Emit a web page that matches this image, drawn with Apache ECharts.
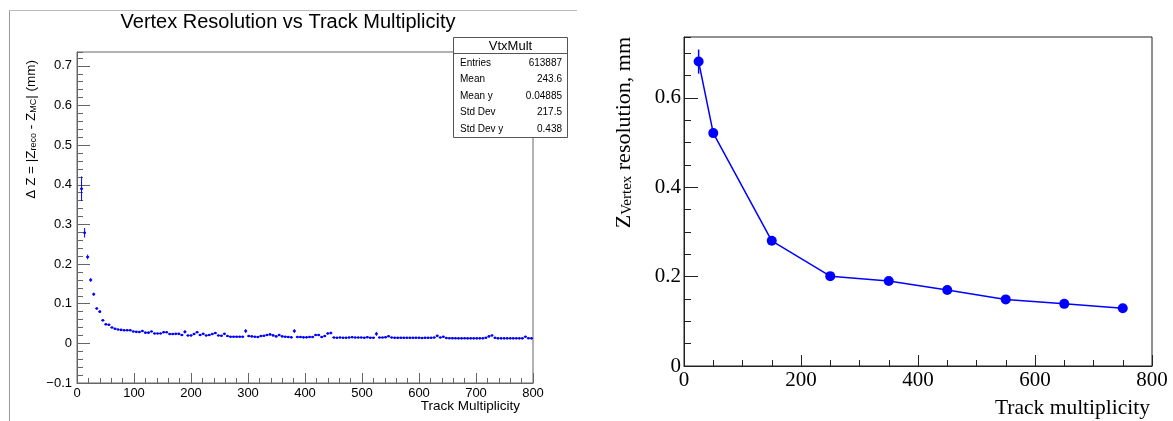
<!DOCTYPE html>
<html><head><meta charset="utf-8">
<script src="https://cdn.jsdelivr.net/npm/echarts@6/dist/echarts.min.js"></script>
<style>html,body{margin:0;padding:0;background:#fff}#c{width:1173px;height:421px}</style>
</head><body><div id="c"></div>
<script>
// ---------- data ----------
const leftTitle = 'Vertex Resolution vs Track Multiplicity';
const leftXName = 'Track Multiplicity';
const rightXName = 'Track multiplicity';
const nBins = 150;            // profile bins over 0..800
const xLo = 0, xHi = 800;
// profile mean per bin (bin 1 is empty)
const leftY = [
  null, 0.390, 0.279, 0.218, 0.160, 0.124, 0.088, 0.080, 0.058, 0.048,
  0.047, 0.040, 0.037, 0.035, 0.034, 0.033, 0.033, 0.033, 0.030, 0.029,
  0.0285, 0.031, 0.027, 0.027, 0.030, 0.025, 0.025, 0.025, 0.028, 0.028,
  0.0235, 0.0235, 0.024, 0.024, 0.021, 0.029, 0.020, 0.020, 0.0235, 0.028,
  0.021, 0.024, 0.020, 0.021, 0.0235, 0.026, 0.020, 0.0192, 0.024, 0.0184,
  0.0168, 0.0168, 0.0168, 0.0168, 0.0168, 0.031, 0.0184, 0.0176, 0.0168, 0.016,
  0.0184, 0.0192, 0.021, 0.0226, 0.0201, 0.0176, 0.021, 0.0176, 0.0168, 0.016,
  0.0151, 0.031, 0.016, 0.016, 0.0151, 0.0151, 0.016, 0.016, 0.021, 0.021,
  0.016, 0.0184, 0.025, 0.026, 0.0147, 0.0143, 0.0147, 0.0143, 0.0143, 0.0147,
  0.0155, 0.0147, 0.0147, 0.0147, 0.0143, 0.0155, 0.0143, 0.0143, 0.024, 0.0147,
  0.0147, 0.0155, 0.018, 0.0147, 0.014, 0.014, 0.014, 0.014, 0.014, 0.014,
  0.014, 0.014, 0.014, 0.0135, 0.014, 0.014, 0.014, 0.0147, 0.019, 0.0147,
  0.0168, 0.0135, 0.013, 0.013, 0.013, 0.0126, 0.0126, 0.013, 0.0126, 0.0126,
  0.0126, 0.0126, 0.0126, 0.0126, 0.014, 0.0175, 0.020, 0.014, 0.0126, 0.0126,
  0.0126, 0.0126, 0.0126, 0.0126, 0.0126, 0.0126, 0.0126, 0.0168, 0.013, 0.0126
];
const leftErr = [
  0, 0.031, 0.012, 0.006, 0.005, 0.004, 0.003, 0.003, 0.002, 0.002,
  0.002, 0.0015, 0.0015, 0.0015, 0.0015, 0.0015, 0.0015, 0.0015, 0.0015, 0.0015,
  0.0015, 0.0015, 0.0015, 0.0015, 0.0015, 0.0015, 0.0015, 0.0015, 0.0015, 0.0015,
  0.0015, 0.0015, 0.0015, 0.0015, 0.0015, 0.004, 0.0015, 0.0015, 0.0015, 0.002,
  0.0015, 0.0015, 0.0015, 0.0015, 0.0015, 0.002, 0.0015, 0.0015, 0.002, 0.0015,
  0.0015, 0.0015, 0.0015, 0.0015, 0.0015, 0.005, 0.0015, 0.0015, 0.0015, 0.0015,
  0.0015, 0.0015, 0.0015, 0.002, 0.0015, 0.0015, 0.002, 0.0015, 0.0015, 0.0015,
  0.0015, 0.005, 0.0015, 0.0015, 0.0015, 0.0015, 0.0015, 0.0015, 0.002, 0.002,
  0.0015, 0.0015, 0.003, 0.003, 0.0015, 0.0015, 0.0015, 0.0015, 0.0015, 0.0015,
  0.0015, 0.0015, 0.0015, 0.0015, 0.0015, 0.0015, 0.0015, 0.0015, 0.005, 0.0015,
  0.0015, 0.0015, 0.002, 0.0015, 0.0015, 0.0015, 0.0015, 0.0015, 0.0015, 0.0015,
  0.0015, 0.0015, 0.0015, 0.0015, 0.0015, 0.0015, 0.0015, 0.0015, 0.002, 0.0015,
  0.002, 0.0015, 0.0015, 0.0015, 0.0015, 0.0015, 0.0015, 0.0015, 0.0015, 0.0015,
  0.0015, 0.0015, 0.0015, 0.0015, 0.0015, 0.002, 0.002, 0.0015, 0.0015, 0.0015,
  0.0015, 0.0015, 0.0015, 0.0015, 0.0015, 0.0015, 0.0015, 0.002, 0.0015, 0.0015
];
const rightX = [25, 50, 150, 250, 350, 450, 550, 650, 750];
const rightY = [0.681, 0.521, 0.280, 0.201, 0.190, 0.170, 0.149, 0.139, 0.129];
const rightErr = [0.027, 0.008, 0.006, 0.005, 0.005, 0.005, 0.005, 0.005, 0.005];
const statsTitle = 'VtxMult';
const statsLabels = ['Entries', 'Mean', 'Mean y', 'Std Dev', 'Std Dev y'];
const statsValues = ['613887', '243.6', '0.04885', '217.5', '0.438'];

// ---------- chart ----------
const binW = (xHi - xLo) / nBins;
const leftData = [];
leftY.forEach((v, i) => { if (v != null) leftData.push([xLo + (i + 0.5) * binW, v, leftErr[i]]); });
const rightData = rightX.map((x, i) => [x, rightY[i], rightErr[i]]);

const SANS = 'Liberation Sans, Arial, Helvetica, sans-serif';
const SERIF = 'Liberation Serif, Times New Roman, serif';
const BLUE = '#0000ff';
const fmt1 = v => (Math.abs(v) < 1e-9 ? '0' : v.toFixed(1).replace('-', '\u2212'));

const chart = echarts.init(document.getElementById('c'), null, {renderer: 'canvas'});

const statsGraphics = [
  {type: 'rect', z: 100, shape: {x: 453.5, y: 37.5, width: 114, height: 100},
   style: {fill: '#fff', stroke: '#555', lineWidth: 1}},
  {type: 'line', z: 101, shape: {x1: 453.5, y1: 53.5, x2: 567.5, y2: 53.5}, style: {stroke: '#555', lineWidth: 1}},
  {type: 'text', z: 101, x: 510.5, y: 46, style: {text: statsTitle, font: '13px ' + SANS, fill: '#000', align: 'center', verticalAlign: 'middle'}}
];
statsLabels.forEach((l, i) => {
  statsGraphics.push({type: 'text', z: 101, x: 460, y: 63 + i * 16.5,
    style: {text: l, font: '10px ' + SANS, fill: '#000', align: 'left', verticalAlign: 'middle'}});
  statsGraphics.push({type: 'text', z: 101, x: 562, y: 63 + i * 16.5,
    style: {text: statsValues[i], font: '10px ' + SANS, fill: '#000', align: 'right', verticalAlign: 'middle'}});
});

const option = {
  animation: false,
  backgroundColor: '#fff',
  grid: [
    {left: 77, top: 52, width: 456, height: 331, show: true, borderColor: '#666', borderWidth: 1, backgroundColor: 'transparent'},
    {left: 684, top: 37, width: 468, height: 329, show: true, borderColor: '#222', borderWidth: 1, backgroundColor: 'transparent'}
  ],
  xAxis: [
    {gridIndex: 0, type: 'value', min: 0, max: 800, interval: 100,
     axisLine: {show: true, onZero: false, lineStyle: {color: '#666', width: 1}},
     axisTick: {show: true, inside: true, length: 10, lineStyle: {color: '#666'}},
     minorTick: {show: true, splitNumber: 5, length: 5, lineStyle: {color: '#666'}},
     splitLine: {show: false},
     axisLabel: {margin: 4, color: '#000', fontFamily: SANS, fontSize: 13}},
    {gridIndex: 1, type: 'value', min: 0, max: 800, interval: 200,
     axisLine: {show: true, onZero: false, lineStyle: {color: '#222', width: 1}},
     axisTick: {show: true, inside: true, length: 11, lineStyle: {color: '#222'}},
     minorTick: {show: true, splitNumber: 4, length: 6, lineStyle: {color: '#222'}},
     splitLine: {show: false},
     axisLabel: {margin: 4, color: '#000', fontFamily: SERIF, fontSize: 21}}
  ],
  yAxis: [
    {gridIndex: 0, type: 'value', position: 'left', min: -0.1, max: 0.735, interval: 0.1,
     axisLine: {show: true, onZero: false, lineStyle: {color: '#666', width: 1}},
     axisTick: {show: true, inside: true, length: 13, lineStyle: {color: '#666'}},
     splitLine: {show: false},
     axisLabel: {margin: 5, color: '#000', fontFamily: SANS, fontSize: 13, showMaxLabel: false, formatter: fmt1}},
    {gridIndex: 0, type: 'value', position: 'left', min: -0.1, max: 0.735, interval: 0.02,
     axisLine: {show: false}, axisLabel: {show: false}, splitLine: {show: false},
     axisTick: {show: true, inside: true, length: 6, lineStyle: {color: '#666'}}},
    {gridIndex: 1, type: 'value', position: 'left', min: 0, max: 0.736, interval: 0.2,
     axisLine: {show: true, onZero: false, lineStyle: {color: '#222', width: 1}},
     axisTick: {show: true, inside: true, length: 14, lineStyle: {color: '#222'}},
     splitLine: {show: false},
     axisLabel: {margin: 3, color: '#000', fontFamily: SERIF, fontSize: 21, showMaxLabel: false, formatter: fmt1}},
    {gridIndex: 1, type: 'value', position: 'left', min: 0, max: 0.736, interval: 0.05,
     axisLine: {show: false}, axisLabel: {show: false}, splitLine: {show: false},
     axisTick: {show: true, inside: true, length: 7, lineStyle: {color: '#222'}}}
  ],
  series: [
    {type: 'custom', xAxisIndex: 0, yAxisIndex: 0, data: leftData, clip: false,
     renderItem: function (params, api) {
       const x = api.value(0), y = api.value(1), e = api.value(2);
       const p = api.coord([x, y]);
       const pl = api.coord([x - binW / 2, y]);
       const pr = api.coord([x + binW / 2, y]);
       const pt = api.coord([x, y + e]);
       const pb = api.coord([x, y - e]);
       return {type: 'group', children: [
         {type: 'line', shape: {x1: pl[0], y1: p[1], x2: pr[0], y2: p[1]}, style: {stroke: BLUE, lineWidth: 1}},
         {type: 'line', shape: {x1: p[0], y1: pb[1], x2: p[0], y2: pt[1]}, style: {stroke: BLUE, lineWidth: 1}},
         {type: 'circle', shape: {cx: p[0], cy: p[1], r: 1.3}, style: {fill: BLUE}}
       ]};
     }},
    {type: 'custom', xAxisIndex: 1, yAxisIndex: 2, data: rightData, z: 1,
     renderItem: function (params, api) {
       const x = api.value(0), y = api.value(1), e = api.value(2);
       const pt = api.coord([x, y + e]);
       const pb = api.coord([x, y - e]);
       return {type: 'line', shape: {x1: pt[0], y1: pt[1], x2: pb[0], y2: pb[1]}, style: {stroke: BLUE, lineWidth: 1.5}};
     }},
    {type: 'line', xAxisIndex: 1, yAxisIndex: 2, data: rightData.map(d => [d[0], d[1]]), z: 3,
     symbol: 'circle', symbolSize: 10, showSymbol: true,
     itemStyle: {color: BLUE, borderWidth: 0},
     lineStyle: {color: BLUE, width: 1.5}}
  ],
  graphic: [
    {type: 'line', z: 50, shape: {x1: 9.5, y1: 10.5, x2: 577, y2: 10.5}, style: {stroke: '#bbb', lineWidth: 1}},
    {type: 'line', z: 50, shape: {x1: 9.5, y1: 10.5, x2: 9.5, y2: 421}, style: {stroke: '#999', lineWidth: 1}},
    {type: 'text', z: 50, x: 288, y: 22, style: {text: leftTitle, font: '20px ' + SANS, fill: '#000', align: 'center', verticalAlign: 'middle'}},
    {type: 'text', z: 50, x: 520, y: 406, style: {text: leftXName, font: '13.5px ' + SANS, fill: '#000', align: 'right', verticalAlign: 'middle'}},
    {type: 'text', z: 50, x: 1150, y: 408, style: {text: rightXName, font: '21.5px ' + SERIF, fill: '#000', align: 'right', verticalAlign: 'middle'}},
    {type: 'text', z: 50, x: 31, y: 60, rotation: Math.PI / 2,
     style: {text: '{a|\u0394 Z = |Z}{b|reco}{a| - Z}{b|MC}{a|| (mm)}', align: 'right', verticalAlign: 'middle',
       rich: {a: {fontFamily: SANS, fontSize: 13.5, lineHeight: 14, verticalAlign: 'top', fill: '#000', color: '#000'},
              b: {fontFamily: SANS, fontSize: 9, lineHeight: 9, verticalAlign: 'bottom', padding: [7, 0, 0, 0], fill: '#000', color: '#000'}}}},
    {type: 'text', z: 50, x: 624, y: 37, rotation: Math.PI / 2,
     style: {text: '{a|Z}{b|Vertex}{a| resolution, mm}', align: 'right', verticalAlign: 'middle',
       rich: {a: {fontFamily: SERIF, fontSize: 22, lineHeight: 22, verticalAlign: 'top', fill: '#000', color: '#000'},
              b: {fontFamily: SERIF, fontSize: 15, lineHeight: 15, verticalAlign: 'bottom', padding: [10, 0, 0, 0], fill: '#000', color: '#000'}}}}
  ].concat(statsGraphics)
};
chart.setOption(option);
</script>
</body></html>
